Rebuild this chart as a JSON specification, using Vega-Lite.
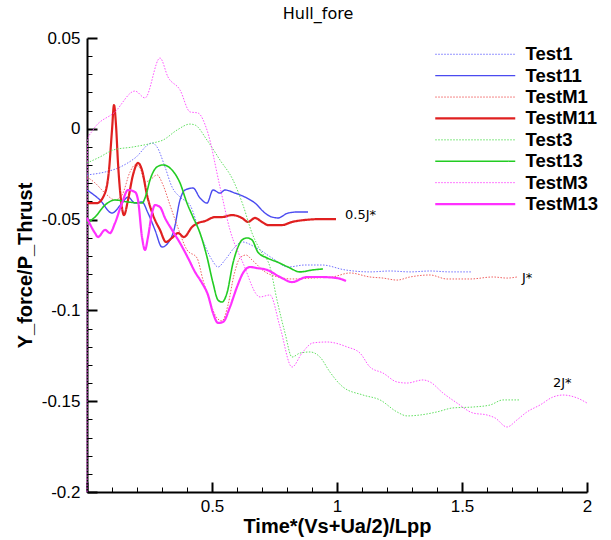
{
 "$schema": "https://vega.github.io/schema/vega-lite/v6.json",
 "width": 500, "height": 454,
 "autosize": {"type": "none"},
 "padding": {"left": 87, "top": 38, "right": 24, "bottom": 48},
 "background": "white",
 "config": {"view": {"stroke": null}, "axis": {"grid": false}},
 "title": {"text": "Hull_fore", "font": "DejaVu Sans", "fontSize": 16, "fontWeight": "normal", "color": "black", "anchor": "middle", "frame": "group", "offset": 7, "dx": -19},
 "datasets": {
  "lines": [
   {"series":"Test1","time":0,"force":-0.0254},{"series":"Test1","time":0.072,"force":-0.0238},{"series":"Test1","time":0.124,"force":-0.0216},{"series":"Test1","time":0.192,"force":-0.0161},{"series":"Test1","time":0.26,"force":-0.0078},{"series":"Test1","time":0.28,"force":-0.01},{"series":"Test1","time":0.312,"force":-0.021},{"series":"Test1","time":0.34,"force":-0.032},{"series":"Test1","time":0.372,"force":-0.0376},{"series":"Test1","time":0.412,"force":-0.042},{"series":"Test1","time":0.452,"force":-0.0574},{"series":"Test1","time":0.5,"force":-0.0722},{"series":"Test1","time":0.524,"force":-0.0761},{"series":"Test1","time":0.552,"force":-0.0722},{"series":"Test1","time":0.592,"force":-0.0651},{"series":"Test1","time":0.62,"force":-0.0623},{"series":"Test1","time":0.672,"force":-0.0651},{"series":"Test1","time":0.74,"force":-0.0711},{"series":"Test1","time":0.804,"force":-0.0761},{"series":"Test1","time":0.872,"force":-0.075},{"series":"Test1","time":0.94,"force":-0.075},{"series":"Test1","time":1.032,"force":-0.0777},{"series":"Test1","time":1.132,"force":-0.0788},{"series":"Test1","time":1.212,"force":-0.0783},{"series":"Test1","time":1.292,"force":-0.0788},{"series":"Test1","time":1.372,"force":-0.0783},{"series":"Test1","time":1.452,"force":-0.0788},{"series":"Test1","time":1.54,"force":-0.0788},

   {"series":"Test11","time":0,"force":-0.0337},{"series":"Test11","time":0.052,"force":-0.0392},{"series":"Test11","time":0.1,"force":-0.0464},{"series":"Test11","time":0.14,"force":-0.0409},{"series":"Test11","time":0.164,"force":-0.0376},{"series":"Test11","time":0.192,"force":-0.0409},{"series":"Test11","time":0.22,"force":-0.0403},{"series":"Test11","time":0.244,"force":-0.0464},{"series":"Test11","time":0.272,"force":-0.0557},{"series":"Test11","time":0.3,"force":-0.0651},{"series":"Test11","time":0.324,"force":-0.0629},{"series":"Test11","time":0.348,"force":-0.0557},{"series":"Test11","time":0.372,"force":-0.0392},{"series":"Test11","time":0.392,"force":-0.0337},{"series":"Test11","time":0.424,"force":-0.0326},{"series":"Test11","time":0.452,"force":-0.0381},{"series":"Test11","time":0.48,"force":-0.0409},{"series":"Test11","time":0.504,"force":-0.0337},{"series":"Test11","time":0.532,"force":-0.0354},{"series":"Test11","time":0.552,"force":-0.0337},{"series":"Test11","time":0.592,"force":-0.0354},{"series":"Test11","time":0.632,"force":-0.0376},{"series":"Test11","time":0.672,"force":-0.0409},{"series":"Test11","time":0.712,"force":-0.0464},{"series":"Test11","time":0.74,"force":-0.0486},{"series":"Test11","time":0.764,"force":-0.0491},{"series":"Test11","time":0.804,"force":-0.0464},{"series":"Test11","time":0.844,"force":-0.0458},{"series":"Test11","time":0.884,"force":-0.0458},

   {"series":"TestM1","time":0,"force":-0.0265},{"series":"TestM1","time":0.032,"force":-0.0298},{"series":"TestM1","time":0.072,"force":-0.0354},{"series":"TestM1","time":0.112,"force":-0.0392},{"series":"TestM1","time":0.14,"force":-0.0365},{"series":"TestM1","time":0.172,"force":-0.0238},{"series":"TestM1","time":0.192,"force":-0.0199},{"series":"TestM1","time":0.212,"force":-0.0216},{"series":"TestM1","time":0.232,"force":-0.0293},{"series":"TestM1","time":0.252,"force":-0.0282},{"series":"TestM1","time":0.28,"force":-0.0254},{"series":"TestM1","time":0.304,"force":-0.0309},{"series":"TestM1","time":0.332,"force":-0.042},{"series":"TestM1","time":0.36,"force":-0.053},{"series":"TestM1","time":0.4,"force":-0.0667},{"series":"TestM1","time":0.44,"force":-0.0711},{"series":"TestM1","time":0.464,"force":-0.0833},{"series":"TestM1","time":0.492,"force":-0.0954},{"series":"TestM1","time":0.52,"force":-0.1042},{"series":"TestM1","time":0.54,"force":-0.1058},{"series":"TestM1","time":0.564,"force":-0.097},{"series":"TestM1","time":0.588,"force":-0.0805},{"series":"TestM1","time":0.612,"force":-0.0711},{"series":"TestM1","time":0.636,"force":-0.0695},{"series":"TestM1","time":0.66,"force":-0.0722},{"series":"TestM1","time":0.712,"force":-0.0788},{"series":"TestM1","time":0.764,"force":-0.0816},{"series":"TestM1","time":0.82,"force":-0.0827},{"series":"TestM1","time":0.9,"force":-0.0822},{"series":"TestM1","time":0.98,"force":-0.0816},{"series":"TestM1","time":1.052,"force":-0.0794},{"series":"TestM1","time":1.132,"force":-0.0816},{"series":"TestM1","time":1.184,"force":-0.0822},{"series":"TestM1","time":1.24,"force":-0.0833},{"series":"TestM1","time":1.292,"force":-0.0816},{"series":"TestM1","time":1.372,"force":-0.0805},{"series":"TestM1","time":1.44,"force":-0.0827},{"series":"TestM1","time":1.532,"force":-0.0827},{"series":"TestM1","time":1.624,"force":-0.0816},{"series":"TestM1","time":1.68,"force":-0.0822},{"series":"TestM1","time":1.72,"force":-0.0816},

   {"series":"TestM11","time":0,"force":-0.0409},{"series":"TestM11","time":0.04,"force":-0.0409},{"series":"TestM11","time":0.072,"force":-0.0354},{"series":"TestM11","time":0.088,"force":-0.0227},{"series":"TestM11","time":0.1,"force":-0.0007},{"series":"TestM11","time":0.108,"force":0.0131},{"series":"TestM11","time":0.116,"force":0.0021},{"series":"TestM11","time":0.124,"force":-0.0188},{"series":"TestM11","time":0.136,"force":-0.0392},{"series":"TestM11","time":0.148,"force":-0.0475},{"series":"TestM11","time":0.164,"force":-0.0392},{"series":"TestM11","time":0.184,"force":-0.0254},{"series":"TestM11","time":0.204,"force":-0.0188},{"series":"TestM11","time":0.22,"force":-0.0227},{"series":"TestM11","time":0.24,"force":-0.0365},{"series":"TestM11","time":0.264,"force":-0.0475},{"series":"TestM11","time":0.292,"force":-0.0557},{"series":"TestM11","time":0.316,"force":-0.0623},{"series":"TestM11","time":0.34,"force":-0.0601},{"series":"TestM11","time":0.364,"force":-0.0574},{"series":"TestM11","time":0.388,"force":-0.0596},{"series":"TestM11","time":0.42,"force":-0.0541},{"series":"TestM11","time":0.444,"force":-0.0519},{"series":"TestM11","time":0.472,"force":-0.0508},{"series":"TestM11","time":0.512,"force":-0.0486},{"series":"TestM11","time":0.54,"force":-0.0486},{"series":"TestM11","time":0.58,"force":-0.0475},{"series":"TestM11","time":0.62,"force":-0.0491},{"series":"TestM11","time":0.644,"force":-0.0513},{"series":"TestM11","time":0.672,"force":-0.0491},{"series":"TestM11","time":0.7,"force":-0.0513},{"series":"TestM11","time":0.724,"force":-0.053},{"series":"TestM11","time":0.78,"force":-0.053},{"series":"TestM11","time":0.82,"force":-0.0513},{"series":"TestM11","time":0.872,"force":-0.0502},{"series":"TestM11","time":0.94,"force":-0.0497},{"series":"TestM11","time":0.996,"force":-0.0497},

   {"series":"Test3","time":0,"force":-0.0188},{"series":"Test3","time":0.052,"force":-0.0155},{"series":"Test3","time":0.104,"force":-0.0117},{"series":"Test3","time":0.184,"force":-0.01},{"series":"Test3","time":0.264,"force":-0.0078},{"series":"Test3","time":0.304,"force":-0.0062},{"series":"Test3","time":0.36,"force":-0.0007},{"series":"Test3","time":0.412,"force":0.0026},{"series":"Test3","time":0.432,"force":0.0021},{"series":"Test3","time":0.48,"force":-0.0062},{"series":"Test3","time":0.532,"force":-0.0172},{"series":"Test3","time":0.584,"force":-0.0282},{"series":"Test3","time":0.624,"force":-0.042},{"series":"Test3","time":0.66,"force":-0.0574},{"series":"Test3","time":0.692,"force":-0.0667},{"series":"Test3","time":0.732,"force":-0.0761},{"series":"Test3","time":0.76,"force":-0.0943},{"series":"Test3","time":0.792,"force":-0.1124},{"series":"Test3","time":0.82,"force":-0.1257},{"series":"Test3","time":0.852,"force":-0.1235},{"series":"Test3","time":0.892,"force":-0.1229},{"series":"Test3","time":0.932,"force":-0.1257},{"series":"Test3","time":0.972,"force":-0.134},{"series":"Test3","time":1.024,"force":-0.1422},{"series":"Test3","time":1.104,"force":-0.1466},{"series":"Test3","time":1.172,"force":-0.1493},{"series":"Test3","time":1.24,"force":-0.1559},{"series":"Test3","time":1.28,"force":-0.1581},{"series":"Test3","time":1.332,"force":-0.1576},{"series":"Test3","time":1.4,"force":-0.1559},{"series":"Test3","time":1.464,"force":-0.1537},{"series":"Test3","time":1.544,"force":-0.1532},{"series":"Test3","time":1.612,"force":-0.1521},{"series":"Test3","time":1.664,"force":-0.1493},{"series":"Test3","time":1.732,"force":-0.1493},

   {"series":"Test13","time":0,"force":-0.0519},{"series":"Test13","time":0.032,"force":-0.0486},{"series":"Test13","time":0.072,"force":-0.042},{"series":"Test13","time":0.112,"force":-0.0392},{"series":"Test13","time":0.164,"force":-0.0403},{"series":"Test13","time":0.22,"force":-0.0409},{"series":"Test13","time":0.236,"force":-0.0365},{"series":"Test13","time":0.252,"force":-0.0282},{"series":"Test13","time":0.28,"force":-0.021},{"series":"Test13","time":0.304,"force":-0.0199},{"series":"Test13","time":0.34,"force":-0.0227},{"series":"Test13","time":0.372,"force":-0.0298},{"series":"Test13","time":0.4,"force":-0.0409},{"series":"Test13","time":0.424,"force":-0.0486},{"series":"Test13","time":0.452,"force":-0.0574},{"series":"Test13","time":0.48,"force":-0.0706},{"series":"Test13","time":0.504,"force":-0.0849},{"series":"Test13","time":0.524,"force":-0.0943},{"series":"Test13","time":0.54,"force":-0.0954},{"series":"Test13","time":0.56,"force":-0.0904},{"series":"Test13","time":0.584,"force":-0.0739},{"series":"Test13","time":0.604,"force":-0.0651},{"series":"Test13","time":0.62,"force":-0.0612},{"series":"Test13","time":0.64,"force":-0.0601},{"series":"Test13","time":0.66,"force":-0.0612},{"series":"Test13","time":0.684,"force":-0.068},{"series":"Test13","time":0.72,"force":-0.0711},{"series":"Test13","time":0.76,"force":-0.0733},{"series":"Test13","time":0.804,"force":-0.0761},{"series":"Test13","time":0.852,"force":-0.0788},{"series":"Test13","time":0.904,"force":-0.0777},{"series":"Test13","time":0.944,"force":-0.0772},

   {"series":"TestM3","time":0,"force":-0.2},{"series":"TestM3","time":0.002,"force":-0.0062},{"series":"TestM3","time":0.024,"force":-0.0007},{"series":"TestM3","time":0.112,"force":0.0093},{"series":"TestM3","time":0.192,"force":0.0208},{"series":"TestM3","time":0.232,"force":0.017},{"series":"TestM3","time":0.292,"force":0.039},{"series":"TestM3","time":0.324,"force":0.0285},{"series":"TestM3","time":0.372,"force":0.0214},{"series":"TestM3","time":0.412,"force":0.0093},{"series":"TestM3","time":0.444,"force":0.0087},{"series":"TestM3","time":0.48,"force":-0.0007},{"series":"TestM3","time":0.532,"force":-0.032},{"series":"TestM3","time":0.572,"force":-0.0557},{"series":"TestM3","time":0.624,"force":-0.0739},{"series":"TestM3","time":0.692,"force":-0.0926},{"series":"TestM3","time":0.732,"force":-0.0915},{"series":"TestM3","time":0.772,"force":-0.1091},{"series":"TestM3","time":0.82,"force":-0.1312},{"series":"TestM3","time":0.86,"force":-0.1235},{"series":"TestM3","time":0.904,"force":-0.1179},{"series":"TestM3","time":0.96,"force":-0.1174},{"series":"TestM3","time":1.04,"force":-0.1201},{"series":"TestM3","time":1.092,"force":-0.1235},{"series":"TestM3","time":1.132,"force":-0.1312},{"series":"TestM3","time":1.184,"force":-0.1345},{"series":"TestM3","time":1.24,"force":-0.1394},{"series":"TestM3","time":1.28,"force":-0.14},{"series":"TestM3","time":1.344,"force":-0.1383},{"series":"TestM3","time":1.372,"force":-0.1394},{"series":"TestM3","time":1.424,"force":-0.1455},{"series":"TestM3","time":1.48,"force":-0.151},{"series":"TestM3","time":1.544,"force":-0.1565},{"series":"TestM3","time":1.6,"force":-0.1576},{"series":"TestM3","time":1.632,"force":-0.1592},{"series":"TestM3","time":1.68,"force":-0.1642},{"series":"TestM3","time":1.72,"force":-0.1603},{"series":"TestM3","time":1.76,"force":-0.1559},{"series":"TestM3","time":1.812,"force":-0.1521},{"series":"TestM3","time":1.864,"force":-0.1477},{"series":"TestM3","time":1.904,"force":-0.1466},{"series":"TestM3","time":1.96,"force":-0.1482},{"series":"TestM3","time":2.0,"force":-0.151},

   {"series":"TestM13","time":0,"force":-0.0491},{"series":"TestM13","time":0.032,"force":-0.0574},{"series":"TestM13","time":0.044,"force":-0.0596},{"series":"TestM13","time":0.072,"force":-0.0557},{"series":"TestM13","time":0.092,"force":-0.0574},{"series":"TestM13","time":0.112,"force":-0.0519},{"series":"TestM13","time":0.14,"force":-0.0409},{"series":"TestM13","time":0.164,"force":-0.0337},{"series":"TestM13","time":0.192,"force":-0.0348},{"series":"TestM13","time":0.204,"force":-0.0392},{"series":"TestM13","time":0.22,"force":-0.0596},{"series":"TestM13","time":0.232,"force":-0.0667},{"series":"TestM13","time":0.244,"force":-0.0596},{"series":"TestM13","time":0.26,"force":-0.0464},{"series":"TestM13","time":0.272,"force":-0.042},{"series":"TestM13","time":0.292,"force":-0.0431},{"series":"TestM13","time":0.312,"force":-0.0491},{"series":"TestM13","time":0.34,"force":-0.0557},{"series":"TestM13","time":0.372,"force":-0.0629},{"series":"TestM13","time":0.404,"force":-0.0711},{"series":"TestM13","time":0.432,"force":-0.0788},{"series":"TestM13","time":0.46,"force":-0.0849},{"series":"TestM13","time":0.484,"force":-0.0915},{"series":"TestM13","time":0.504,"force":-0.1014},{"series":"TestM13","time":0.524,"force":-0.1069},{"series":"TestM13","time":0.544,"force":-0.1064},{"series":"TestM13","time":0.572,"force":-0.0981},{"series":"TestM13","time":0.6,"force":-0.0871},{"series":"TestM13","time":0.624,"force":-0.0794},{"series":"TestM13","time":0.652,"force":-0.0761},{"series":"TestM13","time":0.68,"force":-0.0767},{"series":"TestM13","time":0.72,"force":-0.0777},{"series":"TestM13","time":0.772,"force":-0.0816},{"series":"TestM13","time":0.82,"force":-0.0844},{"series":"TestM13","time":0.88,"force":-0.0816},{"series":"TestM13","time":0.932,"force":-0.0816},{"series":"TestM13","time":1.0,"force":-0.0822},{"series":"TestM13","time":1.036,"force":-0.0838}
  ],
  "notes": [
   {"time":1.032,"force":-0.0475,"label":"0.5J*"},
   {"time":1.74,"force":-0.082,"label":"J*"},
   {"time":1.864,"force":-0.14,"label":"2J*"}
  ]
 },
 "encoding": {
  "x": {"field": "time", "type": "quantitative",
   "scale": {"domain": [0, 2], "nice": false, "zero": false},
   "axis": {"title": "Time*(Vs+Ua/2)/Lpp",
    "values": [0,0.1,0.2,0.3,0.4,0.5,0.6,0.7,0.8,0.9,1,1.1,1.2,1.3,1.4,1.5,1.6,1.7,1.8,1.9,2],
    "labelExpr": "(abs(datum.value*2 - round(datum.value*2)) < 0.001 && datum.value > 0.01) ? replace(format(datum.value, '.2~f'), '\u2212', '-') : ''",
    "tickSize": {"condition": {"test": "abs(datum.value*2 - round(datum.value*2)) < 0.001", "value": -10}, "value": -5},
    "tickWidth": {"condition": {"test": "abs(datum.value*2 - round(datum.value*2)) < 0.001", "value": 2}, "value": 1},
    "tickColor": "black", "domainColor": "black", "domainWidth": 2,
    "labelFont": "Liberation Sans", "labelFontSize": 17, "labelColor": "black", "labelPadding": 16,
    "labelFlush": false, "labelOverlap": false, "labelBound": false,
    "titleFont": "Liberation Sans", "titleFontSize": 20, "titleFontWeight": "bold", "titleColor": "black", "titlePadding": -3}},
  "y": {"field": "force", "type": "quantitative",
   "scale": {"domain": [-0.2, 0.05], "nice": false, "zero": false},
   "axis": {"title": "Y_force/P_Thrust",
    "values": [-0.2,-0.19,-0.18,-0.17,-0.16,-0.15,-0.14,-0.13,-0.12,-0.11,-0.1,-0.09,-0.08,-0.07,-0.06,-0.05,-0.04,-0.03,-0.02,-0.01,0,0.01,0.02,0.03,0.04,0.05],
    "labelExpr": "abs(datum.value*20 - round(datum.value*20)) < 0.001 ? replace(format(datum.value, '.2~f'), '\u2212', '-') : ''",
    "tickSize": {"condition": {"test": "abs(datum.value*20 - round(datum.value*20)) < 0.001", "value": -10}, "value": -5},
    "tickWidth": {"condition": {"test": "abs(datum.value*20 - round(datum.value*20)) < 0.001", "value": 2}, "value": 1},
    "tickColor": "black", "domainColor": "black", "domainWidth": 2,
    "labelFont": "Liberation Sans", "labelFontSize": 17, "labelColor": "black", "labelPadding": 17,
    "labelFlush": false, "labelOverlap": false, "labelBound": false,
    "titleFont": "Liberation Sans", "titleFontSize": 20, "titleFontWeight": "bold", "titleColor": "black", "titlePadding": 6}}
 },
 "layer": [
  {
   "data": {"name": "lines"},
   "mark": {"type": "line", "interpolate": "monotone"},
   "encoding": {
    "color": {"field": "series", "type": "nominal",
     "scale": {"domain": ["Test1","Test11","TestM1","TestM11","Test3","Test13","TestM3","TestM13"],
      "range": ["#7070ff","#4a4af0","#f06060","#e02020","#60e060","#22cc22","#ff50ff","#ff30ff"]},
     "legend": {"orient": "none", "legendX": 379, "legendY": 7, "title": null,
      "symbolType": "M-8,0H8", "symbolSize": 100, "labelOffset": 41,
      "labelFont": "Liberation Sans", "labelFontSize": 18.5, "labelFontWeight": "bold", "labelColor": "black",
      "rowPadding": 2.4, "padding": 0}},
    "strokeDash": {"field": "series", "type": "nominal",
     "scale": {"domain": ["Test1","Test11","TestM1","TestM11","Test3","Test13","TestM3","TestM13"],
      "range": [[1.5,1.5],[1,0],[1.5,1.5],[1,0],[1.5,1.5],[1,0],[1.5,1.5],[1,0]]}},
    "strokeWidth": {"field": "series", "type": "nominal",
     "scale": {"type": "ordinal", "domain": ["Test1","Test11","TestM1","TestM11","Test3","Test13","TestM3","TestM13"],
      "range": [1,1.4,1,2.2,1,1.6,1,2.2]}}
   }
  },
  {
   "data": {"name": "notes"},
   "mark": {"type": "text", "align": "left", "baseline": "middle", "font": "DejaVu Sans", "fontSize": 13, "color": "black"},
   "encoding": {
    "text": {"field": "label"}
   }
  }
 ]
}
